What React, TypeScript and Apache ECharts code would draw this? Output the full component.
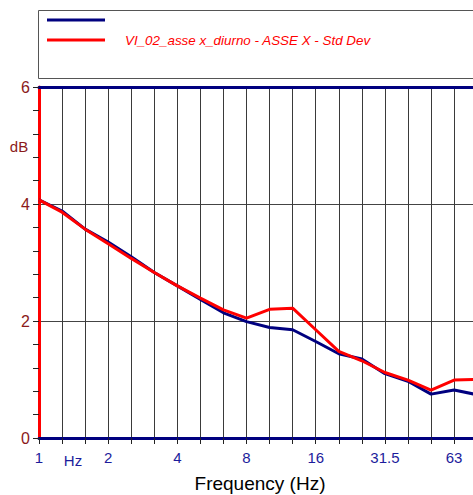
import React, { useEffect, useRef } from "react";
import * as echarts from "echarts";

// 1/3-octave band index (0 = 1 Hz) -> tick label
const tickLabels: Record<number, string> = {
  0: "1",
  3: "2",
  6: "4",
  9: "8",
  12: "16",
  15: "31.5",
  18: "63",
};
const unitLabel = "Hz";
const bandIndex = [0, 1, 2, 3, 4, 5, 6, 7, 8, 9, 10, 11, 12, 13, 14, 15, 16, 17, 18, 19];
const blueValues = [4.07, 3.88, 3.57, 3.35, 3.1, 2.83, 2.6, 2.37, 2.14, 1.99, 1.89, 1.85, 1.65, 1.44, 1.35, 1.1, 0.97, 0.75, 0.82, 0.74];
const redValues = [4.07, 3.86, 3.57, 3.32, 3.07, 2.83, 2.6, 2.39, 2.19, 2.05, 2.2, 2.22, 1.85, 1.48, 1.32, 1.12, 0.99, 0.82, 0.99, 1.0];
const legendName = "VI_02_asse x_diurno - ASSE X - Std Dev";

export default function App() {
  const ref = useRef<HTMLDivElement>(null);
  useEffect(() => {
    if (!ref.current) return;
    const chart = echarts.init(ref.current, null, { renderer: "svg" });
    const font = "Liberation Sans, Arial, sans-serif";
    chart.setOption({
      animation: false,
      backgroundColor: "#ffffff",
      grid: { left: 39, right: 0, top: 87, bottom: 57, containLabel: false },
      xAxis: [
        {
          type: "value",
          min: 0,
          max: 18.82,
          interval: 1,
          position: "bottom",
          axisLine: { show: true, lineStyle: { color: "#00007f", width: 3 } },
          axisTick: { show: true, length: 6, inside: false, lineStyle: { color: "#222", width: 1 } },
          axisLabel: {
            show: true,
            margin: 12,
            color: "#1c1c9c",
            fontSize: 15,
            fontFamily: font,
            showMaxLabel: false,
            formatter: (v: number) => (Number.isInteger(v) && tickLabels[v] !== undefined ? tickLabels[v] : ""),
          },
          splitLine: { show: true, lineStyle: { color: "#3a3a3a", width: 1 } },
        },
        {
          type: "value",
          min: 0,
          max: 18.82,
          position: "top",
          axisLine: { show: true, lineStyle: { color: "#00007f", width: 3 } },
          axisTick: { show: false },
          axisLabel: { show: false },
          splitLine: { show: false },
        },
      ],
      yAxis: {
        type: "value",
        min: 0,
        max: 6,
        interval: 2,
        axisLine: { show: true, onZero: false, lineStyle: { color: "#ff0000", width: 3 } },
        axisTick: { show: true, length: 6, lineStyle: { color: "#222", width: 1 } },
        minorTick: { show: true, splitNumber: 5, length: 6, lineStyle: { color: "#222", width: 1 } },
        axisLabel: { margin: 9, color: "#8b1a1a", fontSize: 16, fontFamily: font },
        splitLine: { show: true, lineStyle: { color: "#444", width: 1 } },
      },
      series: [
        {
          type: "line",
          name: "blue",
          data: bandIndex.map((x, i) => [x, blueValues[i]]),
          showSymbol: false,
          lineStyle: { color: "#00007f", width: 3 },
          z: 3,
        },
        {
          type: "line",
          name: legendName,
          data: bandIndex.map((x, i) => [x, redValues[i]]),
          showSymbol: false,
          lineStyle: { color: "#ff0000", width: 3 },
          z: 4,
        },
      ],
      graphic: [
        {
          type: "rect",
          shape: { x: 38.5, y: 10.5, width: 460, height: 68 },
          style: { fill: "#ffffff", stroke: "#555", lineWidth: 1 },
        },
        {
          type: "line",
          shape: { x1: 47, y1: 20, x2: 105, y2: 20 },
          style: { stroke: "#00007f", lineWidth: 3 },
        },
        {
          type: "line",
          shape: { x1: 47, y1: 40, x2: 105, y2: 40 },
          style: { stroke: "#ff0000", lineWidth: 3 },
        },
        {
          type: "text",
          x: 125,
          y: 40,
          style: {
            text: legendName,
            fill: "#ff0000",
            font: "italic 13.4px Liberation Sans, Arial, sans-serif",
            textVerticalAlign: "middle",
          },
        },
        {
          type: "text",
          x: 19,
          y: 146,
          style: {
            text: "dB",
            fill: "#8b1a1a",
            font: "15px Liberation Sans, Arial, sans-serif",
            textAlign: "center",
            textVerticalAlign: "middle",
          },
        },
        {
          type: "text",
          x: 73,
          y: 460,
          style: {
            text: unitLabel,
            fill: "#1c1c9c",
            font: "15px Liberation Sans, Arial, sans-serif",
            textAlign: "center",
            textVerticalAlign: "middle",
          },
        },
        {
          type: "text",
          x: 260,
          y: 483,
          style: {
            text: "Frequency (Hz)",
            fill: "#000000",
            font: "19px Liberation Sans, Arial, sans-serif",
            textAlign: "center",
            textVerticalAlign: "middle",
          },
        },
      ],
    });
    return () => chart.dispose();
  }, []);
  return (
    <div
      ref={ref}
      style={{ position: "fixed", left: 0, top: 0, width: 473, height: 495 }}
    />
  );
}
